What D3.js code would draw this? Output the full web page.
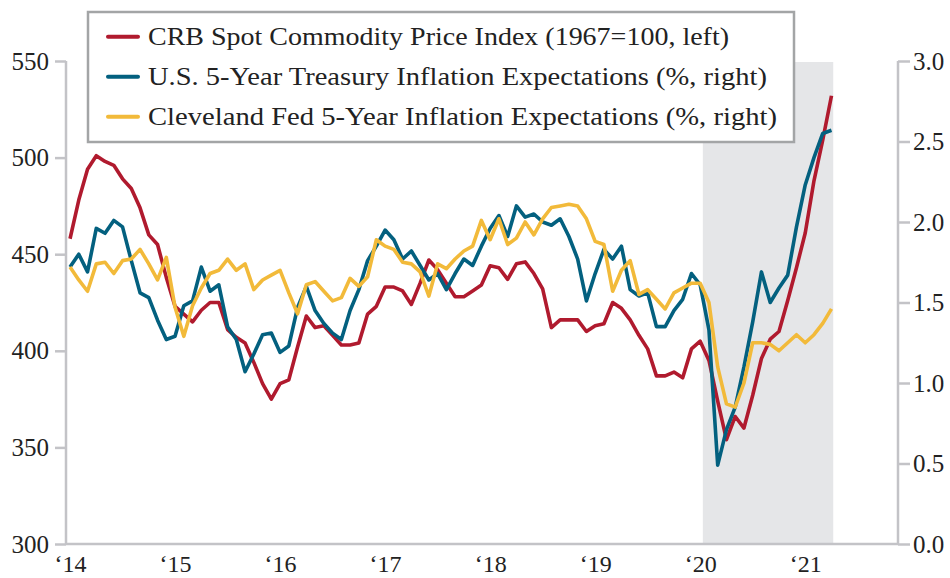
<!DOCTYPE html>
<html>
<head>
<meta charset="utf-8">
<script src="https://cdn.jsdelivr.net/npm/d3@7"></script>
<style>
  body { margin: 0; background: #fff; }
  svg text { font-family: "Liberation Serif", "DejaVu Serif", serif; fill: #222; }
</style>
</head>
<body>
<div id="chart"></div>
<script>
// monthly, Jan 2014 .. Apr 2021
var crb = [
  458, 478, 494, 501, 498, 496, 489, 484, 474, 460, 455, 438,
  423, 419, 415, 421, 425, 425, 411, 407, 404, 394, 383, 375,
  383, 385, 402, 418, 412, 413, 408, 403, 403, 404, 419, 423,
  433, 433, 431, 424, 435, 447, 442, 435, 428, 428, 431, 434,
  444, 443, 437, 445, 446, 440, 432, 412, 416, 416, 416, 410,
  413, 414, 425, 422, 416, 408, 401, 387, 387, 389, 386, 401,
  405, 395, 374, 354, 366, 360, 377, 396, 406, 410, 426, 443,
  461, 488, 509, 532
];
var treasury = [
  1.72, 1.80, 1.69, 1.96, 1.93, 2.01, 1.97, 1.76, 1.56, 1.53, 1.39, 1.27,
  1.29, 1.48, 1.51, 1.72, 1.57, 1.61, 1.35, 1.27, 1.07, 1.18, 1.30, 1.31,
  1.19, 1.23, 1.47, 1.60, 1.45, 1.37, 1.31, 1.27, 1.45, 1.58, 1.76, 1.85,
  1.95, 1.89, 1.77, 1.82, 1.73, 1.64, 1.68, 1.58, 1.68, 1.77, 1.73, 1.85,
  1.96, 2.04, 1.91, 2.10, 2.03, 2.05, 2.00, 1.98, 2.02, 1.91, 1.77, 1.51,
  1.68, 1.83, 1.77, 1.85, 1.58, 1.54, 1.56, 1.35, 1.35, 1.45, 1.52, 1.68,
  1.61, 1.33, 0.49, 0.71, 0.85, 1.10, 1.38, 1.69, 1.50, 1.59, 1.67, 1.97,
  2.23, 2.40, 2.55, 2.57
];
var clevFed = [
  1.72, 1.64, 1.57, 1.74, 1.75, 1.68, 1.76, 1.77, 1.83, 1.74, 1.64, 1.78,
  1.47, 1.29, 1.48, 1.59, 1.68, 1.70, 1.77, 1.70, 1.74, 1.58, 1.64, 1.67,
  1.70, 1.56, 1.43, 1.61, 1.63, 1.57, 1.51, 1.53, 1.65, 1.60, 1.66, 1.89,
  1.85, 1.83, 1.75, 1.74, 1.69, 1.54, 1.74, 1.71, 1.77, 1.82, 1.85, 2.01,
  1.89, 2.02, 1.86, 1.90, 2.00, 1.92, 2.02, 2.09, 2.10, 2.11, 2.10, 2.02,
  1.88, 1.86, 1.57, 1.70, 1.76, 1.55, 1.58, 1.52, 1.46, 1.56, 1.59, 1.62,
  1.62, 1.50, 1.10, 0.87, 0.85, 1.00, 1.25, 1.25, 1.24, 1.20, 1.25, 1.30,
  1.25, 1.30, 1.37, 1.46
];

var yearTicks = [0, 12, 24, 36, 48, 60, 72, 84];
var yearLabels = ["\u201814", "\u201815", "\u201816", "\u201817", "\u201818", "\u201819", "\u201820", "\u201821"];
var leftTicks = [300, 350, 400, 450, 500, 550];
var rightTicks = [0, 0.5, 1, 1.5, 2, 2.5, 3];
var shadeMonths = [72.3, 87.2];

var legendNames = [
  "CRB Spot Commodity Price Index (1967=100, left)",
  "U.S. 5-Year Treasury Inflation Expectations (%, right)",
  "Cleveland Fed 5-Year Inflation Expectations (%, right)"
];
var colors = ["#b01a2e", "#03607f", "#f2ba3a"];

var svgWidth = 950, svgHeight = 578;
var plot = { left: 66, right: 898, top: 61, bottom: 544 };
var axisColor = "#c3c3c7";

var svg = d3.select("#chart").append("svg")
  .attr("width", svgWidth)
  .attr("height", svgHeight);

var xScale = d3.scaleLinear().domain([-0.46, 94.6]).range([plot.left, plot.right]);
var yLeft = d3.scaleLinear().domain([300, 550]).range([plot.bottom, plot.top]);
var yRight = d3.scaleLinear().domain([0, 3]).range([plot.bottom, plot.top]);

// shaded period
svg.append("rect")
  .attr("x", xScale(shadeMonths[0]))
  .attr("y", plot.top + 1)
  .attr("width", xScale(shadeMonths[1]) - xScale(shadeMonths[0]))
  .attr("height", plot.bottom - plot.top - 1)
  .attr("fill", "#e5e6e8");

// axes
var leftAxis = svg.append("g")
  .attr("transform", `translate(${plot.left},0)`)
  .call(d3.axisLeft(yLeft).tickValues(leftTicks).tickSize(11).tickPadding(6).tickFormat(d3.format("d")));
var rightAxis = svg.append("g")
  .attr("transform", `translate(${plot.right},0)`)
  .call(d3.axisRight(yRight).tickValues(rightTicks).tickSize(12).tickPadding(3).tickFormat(d3.format(".1f")));
var bottomAxis = svg.append("g")
  .attr("transform", `translate(0,${plot.bottom})`)
  .call(d3.axisBottom(xScale).tickValues(yearTicks).tickSize(0).tickPadding(17)
    .tickFormat((d, i) => yearLabels[i]));

[leftAxis, rightAxis, bottomAxis].forEach(function(g) {
  g.select(".domain").attr("stroke", axisColor).attr("stroke-width", 2.5);
  g.selectAll(".tick line").attr("stroke", axisColor).attr("stroke-width", 2.5);
  g.selectAll(".tick text")
    .attr("fill", "#222")
    .attr("font-size", 25)
    .attr("font-family", "Liberation Serif, serif");
});
bottomAxis.select(".domain").attr("d", `M${plot.left},0H${plot.right}`);
leftAxis.select(".domain").attr("d", `M0,${plot.top}V${plot.bottom}`);
rightAxis.select(".domain").attr("d", `M0,${plot.top}V${plot.bottom}`);
bottomAxis.selectAll(".tick text").attr("font-size", 24).attr("dy", "0.45em");

// lines
var series = [
  { values: crb, y: yLeft, color: colors[0] },
  { values: treasury, y: yRight, color: colors[1] },
  { values: clevFed, y: yRight, color: colors[2] }
];

series.forEach(function(s) {
  var line = d3.line()
    .x((d, i) => xScale(i))
    .y(d => s.y(d));
  svg.append("path")
    .datum(s.values)
    .attr("d", line)
    .attr("fill", "none")
    .attr("stroke", s.color)
    .attr("stroke-width", 3.6)
    .attr("stroke-linejoin", "round");
});

// legend
var legend = svg.append("g");
legend.append("rect")
  .attr("x", 88).attr("y", 12)
  .attr("width", 706).attr("height", 130)
  .attr("fill", "#fff")
  .attr("stroke", "#a3a5a6")
  .attr("stroke-width", 2.5);

var legendWidths = [581, 619, 629];
legendNames.forEach(function(name, i) {
  var cy = 36.7 + i * 40;
  legend.append("line")
    .attr("x1", 108).attr("x2", 138)
    .attr("y1", cy).attr("y2", cy)
    .attr("stroke", colors[i])
    .attr("stroke-width", 4)
    .attr("stroke-linecap", "round");
  legend.append("text")
    .attr("x", 148).attr("y", cy)
    .attr("dy", "0.34em")
    .attr("font-size", 25)
    .attr("textLength", legendWidths[i])
    .attr("lengthAdjust", "spacingAndGlyphs")
    .text(name);
});
</script>
</body>
</html>
